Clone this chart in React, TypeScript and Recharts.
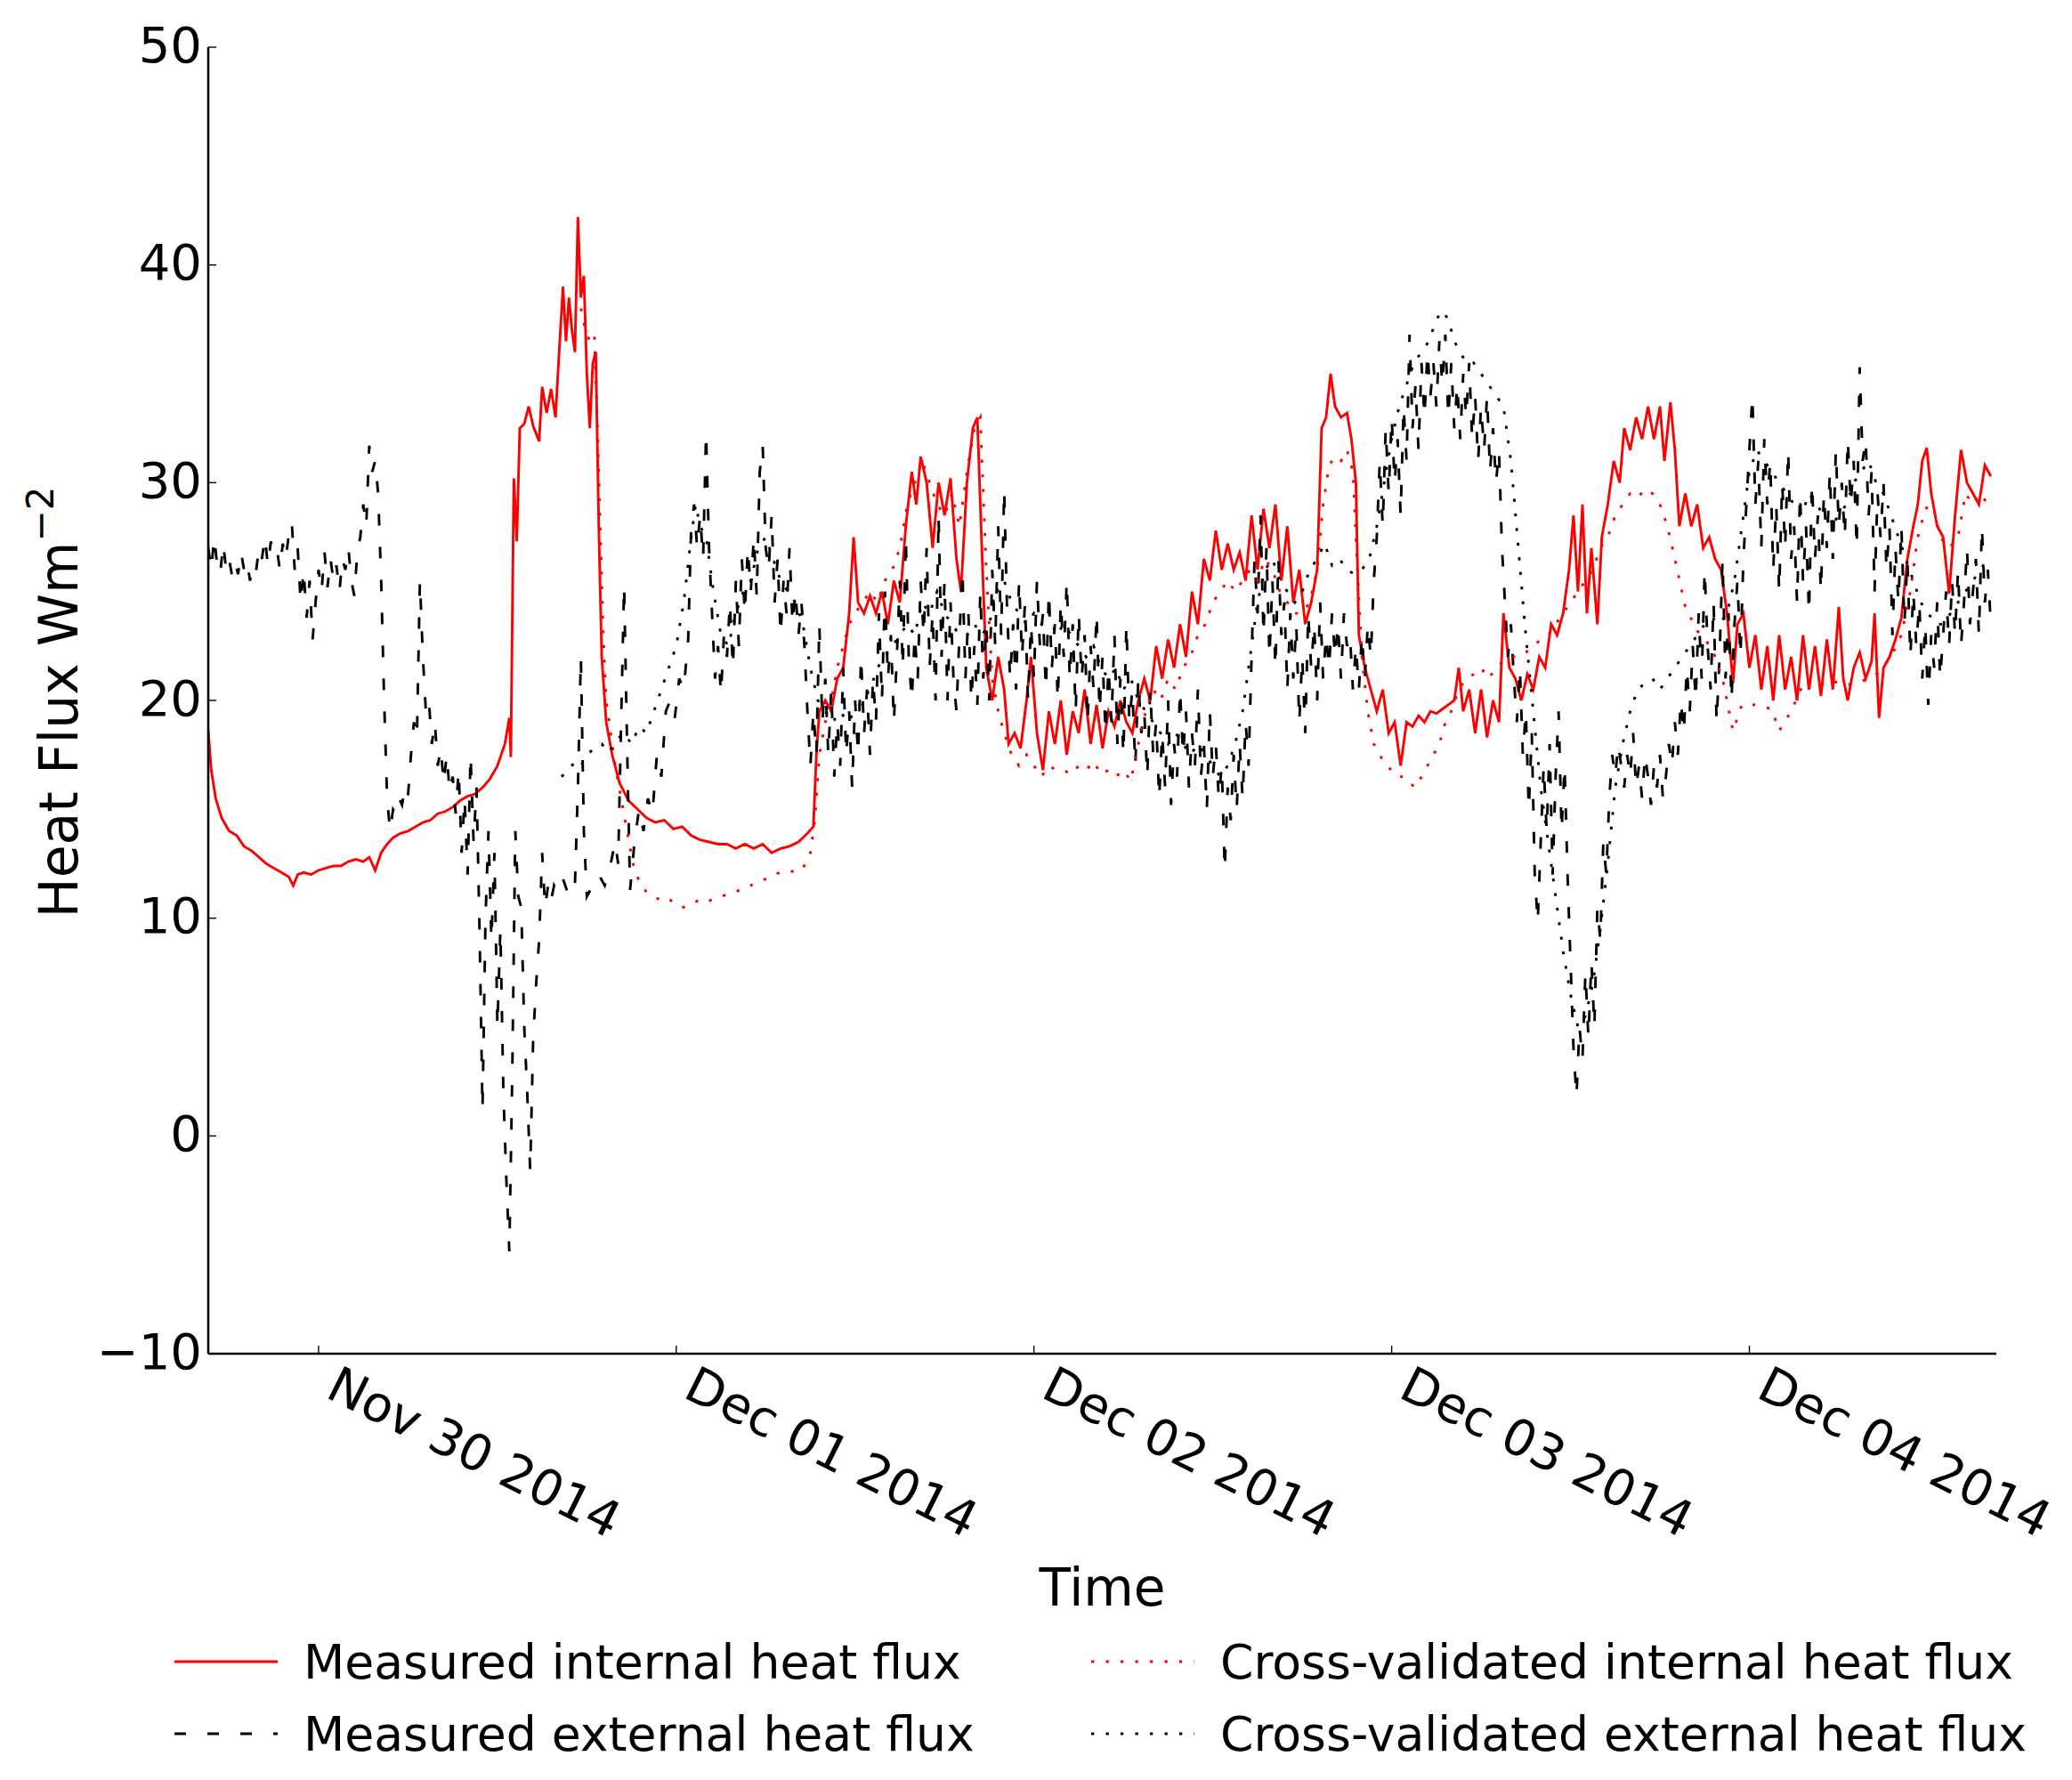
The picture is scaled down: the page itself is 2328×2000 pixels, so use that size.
import React from 'react';
import { LineChart, Line, XAxis, YAxis, Legend, Label } from 'recharts';

// hours since Nov 30 2014 00:00, heat flux in W/m2
const measuredInternal: [number, number][] = [
  [-7.4, 18.6], [-7.2, 16.8], [-6.9, 15.5], [-6.5, 14.6], [-6.0, 14.0], [-5.5, 13.8], [-5.0, 13.3], [-4.5, 13.1],
  [-4.0, 12.8], [-3.5, 12.5], [-3.0, 12.3], [-2.5, 12.1], [-2.0, 11.9], [-1.7, 11.5], [-1.4, 12.0], [-1.0, 12.1],
  [-0.5, 12.0], [0, 12.2], [0.5, 12.3], [1.0, 12.4], [1.5, 12.4], [2.0, 12.6], [2.5, 12.7], [3.0, 12.6],
  [3.4, 12.8], [3.8, 12.2], [4.2, 13.0], [4.6, 13.4], [5.0, 13.7], [5.5, 13.9], [6.0, 14.0], [6.5, 14.2],
  [7.0, 14.4], [7.5, 14.5], [8.0, 14.8], [8.5, 14.9], [9.0, 15.1], [9.5, 15.4], [10.0, 15.6], [10.5, 15.7],
  [11.0, 16.0], [11.5, 16.4], [12.0, 17.0], [12.5, 18.0], [12.8, 19.2], [12.9, 17.4], [13.1, 30.2], [13.3, 27.3],
  [13.5, 32.5], [13.8, 32.7], [14.1, 33.5], [14.4, 32.6], [14.8, 31.9], [15.0, 34.4], [15.3, 33.2], [15.6, 34.3],
  [15.9, 33.0], [16.1, 35.5], [16.4, 39.0], [16.6, 36.5], [16.8, 38.5], [17.0, 37.0], [17.2, 36.0], [17.4, 42.2],
  [17.6, 38.5], [17.8, 39.5], [18.0, 35.0], [18.2, 32.5], [18.4, 35.5], [18.6, 36.0], [18.8, 28.0], [19.0, 22.0],
  [19.3, 19.0], [19.7, 17.5], [20.2, 16.2], [20.8, 15.4], [21.4, 15.0], [22.0, 14.6], [22.6, 14.4], [23.2, 14.5],
  [23.8, 14.1], [24.4, 14.2], [25.0, 13.8], [25.6, 13.6], [26.2, 13.5], [26.8, 13.4], [27.4, 13.4], [28.0, 13.2],
  [28.6, 13.4], [29.2, 13.2], [29.8, 13.4], [30.4, 13.0], [31.0, 13.2], [31.6, 13.3], [32.2, 13.5], [32.8, 13.9],
  [33.2, 14.2], [33.4, 17.5], [33.6, 19.5], [34.0, 20.0], [34.4, 19.5], [34.8, 21.0], [35.2, 21.5], [35.6, 24.0],
  [35.9, 27.5], [36.2, 24.5], [36.6, 24.0], [37.0, 24.8], [37.4, 24.0], [37.8, 25.0], [38.2, 23.5], [38.6, 25.5],
  [39.0, 24.5], [39.4, 28.0], [39.8, 30.5], [40.1, 29.0], [40.4, 31.2], [40.8, 30.0], [41.2, 27.0], [41.6, 30.0],
  [42.0, 28.5], [42.4, 30.2], [42.8, 26.5], [43.1, 25.0], [43.5, 30.0], [43.9, 32.5], [44.2, 33.0], [44.5, 27.0],
  [44.8, 21.5], [45.2, 20.0], [45.6, 22.0], [46.0, 20.5], [46.3, 18.0], [46.7, 18.5], [47.1, 17.8], [47.5, 20.0],
  [47.8, 22.0], [48.2, 18.5], [48.6, 16.8], [49.0, 19.5], [49.4, 18.0], [49.8, 20.0], [50.2, 17.5], [50.6, 19.5],
  [51.0, 18.5], [51.4, 20.5], [51.8, 18.0], [52.2, 19.8], [52.6, 17.8], [53.0, 19.5], [53.4, 18.8], [53.8, 20.0],
  [54.2, 19.0], [54.6, 18.5], [55.0, 20.0], [55.4, 21.0], [55.8, 20.0], [56.2, 22.5], [56.6, 21.0], [57.0, 22.8],
  [57.4, 21.5], [57.8, 23.5], [58.2, 22.0], [58.6, 25.0], [59.0, 23.5], [59.4, 26.5], [59.8, 25.5], [60.2, 27.8],
  [60.6, 26.0], [61.0, 27.2], [61.4, 26.0], [61.8, 26.8], [62.2, 25.5], [62.6, 28.5], [63.0, 26.0], [63.4, 28.8],
  [63.8, 27.0], [64.2, 29.0], [64.6, 25.5], [65.0, 28.0], [65.4, 24.5], [65.8, 26.0], [66.2, 23.5], [66.6, 24.5],
  [67.0, 26.0], [67.3, 32.5], [67.6, 33.0], [67.9, 35.0], [68.2, 33.5], [68.6, 33.0], [69.0, 33.2], [69.3, 32.0],
  [69.6, 30.0], [69.8, 23.0], [70.2, 21.5], [70.6, 20.5], [71.0, 19.5], [71.4, 20.5], [71.8, 18.5], [72.2, 19.0],
  [72.6, 17.0], [73.0, 19.0], [73.4, 18.8], [73.8, 19.3], [74.2, 19.0], [74.6, 19.5], [75.0, 19.4], [75.4, 19.6],
  [75.8, 19.8], [76.2, 20.0], [76.5, 21.5], [76.8, 19.5], [77.2, 20.5], [77.6, 18.5], [78.0, 20.5], [78.4, 18.3],
  [78.8, 20.0], [79.2, 19.0], [79.5, 24.0], [79.9, 21.5], [80.3, 21.0], [80.7, 20.0], [81.1, 21.2], [81.5, 20.5],
  [81.9, 22.0], [82.3, 21.5], [82.7, 23.5], [83.1, 23.0], [83.5, 24.0], [83.9, 26.0], [84.2, 28.5], [84.5, 25.0],
  [84.8, 29.0], [85.1, 24.0], [85.4, 27.0], [85.8, 23.5], [86.1, 27.5], [86.5, 29.0], [86.9, 31.0], [87.3, 30.0],
  [87.6, 32.5], [88.0, 31.5], [88.4, 33.0], [88.8, 32.0], [89.2, 33.5], [89.6, 32.0], [90.0, 33.5], [90.3, 31.0],
  [90.7, 33.7], [91.0, 31.5], [91.3, 28.0], [91.7, 29.5], [92.1, 28.0], [92.5, 29.0], [92.9, 27.0], [93.3, 27.5],
  [93.7, 26.5], [94.1, 26.0], [94.5, 24.0], [94.9, 20.8], [95.2, 23.5], [95.6, 24.0], [96.0, 21.5], [96.4, 23.0],
  [96.8, 20.5], [97.2, 22.5], [97.6, 20.0], [98.0, 23.0], [98.4, 20.5], [98.8, 22.0], [99.2, 20.0], [99.6, 23.0],
  [100.0, 20.5], [100.4, 22.5], [100.8, 20.2], [101.2, 22.8], [101.6, 20.5], [102.0, 24.3], [102.3, 21.0], [102.6, 20.0],
  [103.0, 21.5], [103.4, 22.2], [103.8, 21.0], [104.2, 21.8], [104.4, 24.0], [104.7, 19.2], [105.0, 21.5], [105.4, 22.0],
  [105.8, 22.8], [106.2, 23.8], [106.6, 26.5], [107.0, 28.0], [107.3, 29.0], [107.6, 31.0], [107.9, 31.6], [108.2, 29.5],
  [108.6, 28.0], [109.0, 27.5], [109.4, 24.9], [109.8, 28.5], [110.2, 31.5], [110.6, 30.0], [111.0, 29.5], [111.4, 29.0],
  [111.8, 30.8], [112.2, 30.3],
];

const measuredExternal: [number, number][] = [
  [-7.4, 27.0], [-7.2, 26.0], [-7.0, 27.5], [-6.8, 26.2], [-6.6, 25.8], [-6.4, 27.2], [-6.2, 26.0], [-6.0, 26.5],
  [-5.8, 25.7], [-5.6, 26.3], [-5.4, 25.8], [-5.2, 26.8], [-5.0, 26.0], [-4.8, 26.4], [-4.6, 25.5], [-4.4, 26.2],
  [-4.2, 25.9], [-4.0, 27.0], [-3.8, 26.5], [-3.6, 27.5], [-3.4, 26.2], [-3.2, 27.3], [-3.0, 26.8], [-2.8, 27.0],
  [-2.6, 26.0], [-2.4, 27.2], [-2.2, 26.5], [-2.0, 27.6], [-1.8, 28.2], [-1.6, 26.0], [-1.4, 27.0], [-1.2, 24.5],
  [-1.0, 26.0], [-0.8, 23.8], [-0.6, 25.5], [-0.4, 22.8], [-0.2, 24.5], [0.0, 26.0], [0.2, 25.0], [0.4, 26.8],
  [0.6, 25.2], [0.8, 26.5], [1.0, 25.5], [1.2, 26.2], [1.4, 25.0], [1.6, 26.5], [1.8, 26.0], [2.0, 27.0],
  [2.2, 25.5], [2.4, 24.8], [2.6, 26.8], [2.8, 27.5], [3.0, 29.0], [3.2, 28.0], [3.4, 31.7], [3.6, 30.5],
  [3.8, 31.0], [4.0, 29.5], [4.2, 25.5], [4.4, 20.0], [4.6, 15.5], [4.8, 14.0], [5.0, 15.0], [5.2, 14.8],
  [5.4, 15.5], [5.6, 15.2], [5.8, 16.0], [6.0, 15.6], [6.2, 17.5], [6.4, 19.0], [6.6, 18.3], [6.8, 25.5],
  [7.0, 22.0], [7.2, 19.5], [7.4, 20.0], [7.6, 18.0], [7.8, 19.0], [8.0, 17.0], [8.2, 17.8], [8.4, 16.2],
  [8.6, 17.5], [8.8, 15.8], [9.0, 16.5], [9.2, 14.8], [9.4, 16.8], [9.6, 13.0], [9.8, 15.5], [10.0, 12.0],
  [10.2, 17.5], [10.4, 13.5], [10.6, 16.0], [10.8, 9.5], [11.0, 1.2], [11.2, 10.0], [11.4, 14.0], [11.6, 9.0],
  [11.8, 13.0], [12.0, 5.0], [12.2, 9.5], [12.4, 2.0], [12.6, -2.0], [12.8, -5.3], [13.0, 3.0], [13.2, 14.0],
  [13.4, 11.0], [13.6, 10.5], [13.8, 5.0], [14.0, 2.0], [14.2, -1.6], [14.4, 4.5], [14.6, 7.0], [14.8, 9.0],
  [15.0, 13.0], [15.2, 10.5], [15.4, 11.5], [15.6, 10.8], [15.8, 11.5], [16.0, 11.2], [16.4, 11.8], [16.8, 11.0],
  [17.2, 11.5], [17.4, 16.0], [17.6, 22.0], [17.8, 14.0], [18.0, 11.0], [18.4, 11.5], [18.8, 12.0], [19.2, 11.5],
  [19.6, 12.5], [19.9, 13.5], [20.1, 12.5], [20.3, 19.0], [20.5, 25.3], [20.7, 18.0], [20.9, 11.3], [21.2, 13.5],
  [21.5, 15.0], [21.8, 14.0], [22.1, 15.5], [22.4, 14.8], [22.7, 17.5], [23.0, 16.5], [23.3, 19.5], [23.6, 20.0],
  [23.9, 19.2], [24.2, 21.0], [24.5, 20.5], [24.8, 22.8], [25.0, 28.0], [25.2, 29.0], [25.4, 27.0], [25.6, 28.5],
  [25.8, 26.5], [26.0, 32.3], [26.2, 27.0], [26.4, 24.0], [26.6, 21.0], [26.8, 22.5], [27.0, 20.3], [27.2, 23.0],
  [27.4, 22.0], [27.6, 24.5], [27.8, 21.5], [28.0, 25.5], [28.2, 22.5], [28.4, 26.5], [28.6, 24.0], [28.8, 27.0],
  [29.0, 25.0], [29.2, 27.5], [29.4, 24.8], [29.6, 30.5], [29.8, 31.7], [30.0, 27.0], [30.2, 26.0], [30.4, 28.5],
  [30.6, 24.5], [30.8, 26.5], [31.0, 23.0], [31.2, 25.5], [31.4, 24.0], [31.6, 27.0], [31.8, 23.5], [32.0, 25.0],
  [32.2, 23.0], [32.4, 24.5], [32.6, 22.5], [32.8, 19.5], [33.0, 17.0], [33.2, 19.5], [33.4, 17.5], [33.6, 23.5],
  [33.8, 19.0], [34.0, 21.0], [34.2, 17.5], [34.4, 20.5], [34.6, 16.5], [34.8, 19.0], [35.0, 17.0], [35.2, 21.5],
  [35.4, 17.5], [35.6, 19.5], [35.8, 16.0], [36.0, 20.0], [36.2, 17.5], [36.4, 22.0], [36.6, 18.5], [36.8, 20.5],
  [37.0, 17.5], [37.2, 21.0], [37.4, 19.0], [37.6, 24.0], [37.8, 20.0], [38.0, 25.0], [38.2, 21.0], [38.4, 23.0],
  [38.6, 19.0], [38.8, 22.0], [39.0, 25.5], [39.2, 21.5], [39.4, 27.5], [39.6, 22.0], [39.8, 20.0], [40.0, 23.0],
  [40.2, 21.0], [40.4, 25.5], [40.6, 23.0], [40.8, 27.0], [41.0, 21.5], [41.2, 24.0], [41.4, 20.0], [41.6, 28.5],
  [41.8, 22.0], [42.0, 25.5], [42.2, 20.0], [42.4, 24.5], [42.6, 21.0], [42.8, 19.5], [43.0, 23.0], [43.2, 26.0],
  [43.4, 21.0], [43.6, 24.0], [43.8, 20.0], [44.0, 22.5], [44.2, 19.8], [44.4, 25.0], [44.6, 21.0], [44.8, 23.5],
  [45.0, 20.0], [45.2, 26.0], [45.4, 22.5], [45.6, 28.0], [45.8, 23.0], [46.0, 29.7], [46.2, 24.0], [46.4, 21.0],
  [46.6, 23.5], [46.8, 20.5], [47.0, 25.5], [47.2, 22.0], [47.4, 24.5], [47.6, 20.0], [47.8, 23.5], [48.0, 21.0],
  [48.2, 25.5], [48.4, 22.5], [48.6, 24.0], [48.8, 20.5], [49.0, 25.0], [49.2, 21.5], [49.4, 23.5], [49.6, 20.0],
  [49.8, 24.5], [50.0, 22.0], [50.2, 25.5], [50.4, 21.0], [50.6, 23.5], [50.8, 19.5], [51.0, 24.0], [51.2, 21.0],
  [51.4, 23.0], [51.6, 19.0], [51.8, 22.5], [52.0, 20.5], [52.2, 24.0], [52.4, 19.5], [52.6, 22.0], [52.8, 18.5],
  [53.0, 21.5], [53.2, 19.0], [53.4, 23.0], [53.6, 18.0], [53.8, 21.0], [54.0, 17.5], [54.2, 23.5], [54.4, 19.0],
  [54.6, 20.5], [54.8, 17.0], [55.0, 21.0], [55.2, 18.5], [55.4, 19.5], [55.6, 16.5], [55.8, 20.5], [56.0, 17.5],
  [56.2, 19.0], [56.4, 15.5], [56.6, 18.5], [56.8, 16.0], [57.0, 20.0], [57.2, 15.2], [57.4, 18.0], [57.6, 16.5],
  [57.8, 20.5], [58.0, 17.5], [58.2, 19.5], [58.4, 16.0], [58.6, 18.5], [58.8, 17.0], [59.0, 20.5], [59.2, 16.5],
  [59.4, 18.0], [59.6, 15.0], [59.8, 19.5], [60.0, 16.5], [60.2, 18.0], [60.4, 15.5], [60.6, 17.0], [60.8, 12.2],
  [61.0, 16.0], [61.2, 14.5], [61.4, 17.5], [61.6, 15.0], [61.8, 18.0], [62.0, 15.5], [62.2, 19.0], [62.4, 17.0],
  [62.6, 22.0], [62.8, 26.5], [63.0, 24.0], [63.2, 28.5], [63.4, 23.0], [63.6, 27.0], [63.8, 22.0], [64.0, 25.5],
  [64.2, 21.5], [64.4, 26.5], [64.6, 23.0], [64.8, 24.5], [65.0, 20.5], [65.2, 24.0], [65.4, 21.0], [65.6, 23.5],
  [65.8, 19.0], [66.0, 22.0], [66.2, 18.5], [66.4, 24.0], [66.6, 21.5], [66.8, 23.5], [67.0, 20.0], [67.2, 24.5],
  [67.4, 21.0], [67.6, 23.0], [67.8, 21.5], [68.0, 24.0], [68.2, 22.0], [68.4, 23.5], [68.6, 21.0], [68.8, 24.0],
  [69.0, 22.5], [69.2, 23.0], [69.4, 20.5], [69.6, 22.5], [69.8, 20.5], [70.0, 23.0], [70.2, 21.0], [70.4, 23.5],
  [70.6, 22.0], [70.8, 25.5], [71.0, 27.5], [71.2, 31.0], [71.4, 28.0], [71.6, 32.5], [71.8, 29.5], [72.0, 33.0],
  [72.2, 30.0], [72.4, 32.0], [72.6, 28.5], [72.8, 33.5], [73.0, 31.0], [73.2, 36.8], [73.4, 32.5], [73.6, 34.5],
  [73.8, 31.5], [74.0, 35.5], [74.2, 33.0], [74.4, 36.0], [74.6, 34.0], [74.8, 35.5], [75.0, 33.5], [75.2, 36.5],
  [75.4, 34.5], [75.6, 36.8], [75.8, 33.0], [76.0, 35.5], [76.2, 32.5], [76.4, 34.5], [76.6, 32.0], [76.8, 35.0],
  [77.0, 33.0], [77.2, 35.5], [77.4, 32.0], [77.6, 34.0], [77.8, 31.0], [78.0, 33.5], [78.2, 31.5], [78.4, 34.0],
  [78.6, 30.5], [78.8, 32.5], [79.0, 30.0], [79.2, 31.5], [79.4, 27.0], [79.6, 24.5], [79.8, 22.0], [80.0, 23.5],
  [80.2, 21.0], [80.4, 19.0], [80.6, 21.5], [80.8, 17.5], [81.0, 19.5], [81.2, 15.0], [81.4, 18.5], [81.6, 12.0],
  [81.8, 9.8], [82.0, 13.5], [82.2, 17.0], [82.4, 14.0], [82.6, 18.0], [82.8, 12.0], [83.0, 16.5], [83.2, 19.5],
  [83.4, 14.0], [83.6, 17.0], [83.8, 12.0], [84.0, 8.0], [84.2, 4.0], [84.4, 1.8], [84.6, 5.0], [84.8, 3.5],
  [85.0, 7.5], [85.2, 4.5], [85.4, 8.0], [85.6, 5.0], [85.8, 10.5], [86.0, 9.0], [86.2, 13.5], [86.4, 12.0],
  [86.6, 15.5], [86.8, 17.5], [87.0, 16.5], [87.2, 18.0], [87.4, 17.0], [87.6, 16.0], [87.8, 17.5], [88.0, 16.5],
  [88.2, 18.5], [88.4, 16.0], [88.6, 17.0], [88.8, 15.5], [89.0, 17.5], [89.2, 16.5], [89.4, 15.2], [89.6, 17.0],
  [89.8, 16.0], [90.0, 17.5], [90.2, 15.5], [90.4, 16.5], [90.6, 18.0], [90.8, 17.0], [91.0, 19.0], [91.2, 17.5],
  [91.4, 20.0], [91.6, 18.5], [91.8, 21.5], [92.0, 19.5], [92.2, 22.5], [92.4, 20.0], [92.6, 24.0], [92.8, 21.0],
  [93.0, 26.0], [93.2, 22.5], [93.4, 20.5], [93.6, 24.5], [93.8, 19.0], [94.0, 22.0], [94.2, 26.5], [94.4, 21.0],
  [94.6, 24.0], [94.8, 20.0], [95.0, 23.5], [95.2, 25.5], [95.4, 22.0], [95.6, 26.5], [95.8, 29.0], [96.0, 31.5],
  [96.2, 34.0], [96.4, 29.0], [96.6, 31.0], [96.8, 27.0], [97.0, 32.0], [97.2, 29.0], [97.4, 31.0], [97.6, 26.0],
  [97.8, 29.0], [98.0, 25.0], [98.2, 30.0], [98.4, 27.0], [98.6, 31.5], [98.8, 26.5], [99.0, 28.0], [99.2, 24.5],
  [99.4, 29.5], [99.6, 25.5], [99.8, 28.0], [100.0, 24.0], [100.2, 30.0], [100.4, 26.5], [100.6, 28.5], [100.8, 25.0],
  [101.0, 29.5], [101.2, 27.0], [101.4, 30.5], [101.6, 26.5], [101.8, 31.5], [102.0, 28.0], [102.2, 30.0], [102.4, 27.5],
  [102.6, 32.0], [102.8, 29.0], [103.0, 31.0], [103.2, 27.0], [103.4, 35.3], [103.6, 31.0], [103.8, 32.0], [104.0, 28.5],
  [104.2, 30.5], [104.4, 25.0], [104.6, 29.5], [104.8, 27.5], [105.0, 30.0], [105.2, 26.0], [105.4, 28.0], [105.6, 23.0],
  [105.8, 27.0], [106.0, 24.5], [106.2, 28.0], [106.4, 23.5], [106.6, 26.5], [106.8, 22.0], [107.0, 25.0], [107.2, 22.5],
  [107.4, 24.5], [107.6, 21.0], [107.8, 23.5], [108.0, 19.8], [108.2, 23.0], [108.4, 21.5], [108.6, 24.5], [108.8, 21.0],
  [109.0, 23.0], [109.2, 25.0], [109.4, 22.5], [109.6, 25.5], [109.8, 23.0], [110.0, 26.0], [110.2, 22.5], [110.4, 24.5],
  [110.6, 27.0], [110.8, 23.5], [111.0, 25.0], [111.2, 26.5], [111.4, 23.0], [111.6, 28.0], [111.8, 24.5], [112.0, 26.0],
  [112.2, 23.5],
];

const crossValidatedInternal: [number, number][] = [
  [17.6, 38.0], [17.9, 37.0], [18.2, 36.5], [18.5, 36.8], [18.7, 33.0], [18.9, 28.0], [19.1, 23.0], [19.3, 20.0],
  [19.6, 18.5], [19.9, 17.0], [20.3, 15.5], [20.7, 14.0], [21.1, 12.5], [21.5, 11.7], [22.0, 11.2], [22.5, 11.0],
  [23.0, 10.8], [23.5, 10.9], [24.0, 10.6], [24.5, 10.5], [25.0, 10.7], [25.5, 10.8], [26.0, 10.7], [26.5, 10.9],
  [27.0, 11.0], [27.5, 11.1], [28.0, 11.2], [28.5, 11.4], [29.0, 11.5], [29.5, 11.7], [30.0, 11.8], [30.5, 12.0],
  [31.0, 12.1], [31.5, 12.2], [32.0, 12.1], [32.5, 12.3], [33.0, 13.0], [33.3, 14.5], [33.6, 17.5], [34.0, 19.0],
  [34.4, 20.0], [34.8, 21.5], [35.2, 22.5], [35.6, 23.5], [36.0, 24.0], [36.5, 24.5], [37.0, 25.0], [37.5, 24.5],
  [38.0, 25.5], [38.5, 26.0], [39.0, 27.0], [39.5, 29.0], [40.0, 30.0], [40.5, 31.0], [41.0, 30.0], [41.5, 29.0],
  [42.0, 28.5], [42.5, 29.5], [43.0, 28.0], [43.5, 30.5], [44.0, 32.5], [44.4, 33.0], [44.8, 26.0], [45.2, 21.0],
  [45.6, 19.5], [46.0, 18.5], [46.5, 17.5], [47.0, 17.0], [47.5, 17.5], [48.0, 17.0], [48.5, 16.5], [49.0, 17.0],
  [49.5, 16.8], [50.0, 16.8], [50.5, 16.6], [51.0, 17.0], [51.5, 16.8], [52.0, 17.2], [52.5, 16.6], [53.0, 16.8],
  [53.5, 16.5], [54.0, 16.8], [54.5, 16.3], [55.0, 18.0], [55.5, 19.5], [56.0, 20.5], [56.5, 20.0], [57.0, 21.0],
  [57.5, 20.5], [58.0, 21.5], [58.5, 22.0], [59.0, 23.0], [59.5, 23.5], [60.0, 24.5], [60.5, 25.0], [61.0, 25.5],
  [61.5, 25.0], [62.0, 25.5], [62.5, 26.0], [63.0, 25.5], [63.5, 26.5], [64.0, 26.0], [64.5, 25.0], [65.0, 24.5],
  [65.5, 24.0], [66.0, 24.0], [66.5, 24.5], [67.0, 26.0], [67.4, 29.0], [67.8, 30.8], [68.2, 31.2], [68.6, 31.0],
  [69.0, 31.5], [69.4, 30.5], [69.7, 26.0], [70.0, 22.0], [70.4, 19.5], [70.8, 18.0], [71.2, 17.5], [71.6, 17.0],
  [72.0, 16.8], [72.4, 16.5], [72.8, 16.5], [73.2, 16.2], [73.6, 16.0], [74.0, 16.5], [74.4, 17.0], [74.8, 17.5],
  [75.2, 18.0], [75.6, 19.0], [76.0, 19.5], [76.5, 20.5], [77.0, 21.0], [77.5, 21.2], [78.0, 21.5], [78.5, 21.0],
  [79.0, 21.5], [79.5, 21.8], [80.0, 22.0], [80.5, 22.0], [81.0, 22.2], [81.5, 22.5], [82.0, 22.8], [82.5, 23.0],
  [83.0, 23.5], [83.5, 24.0], [84.0, 24.5], [84.5, 25.0], [85.0, 25.5], [85.5, 26.0], [86.0, 27.0], [86.5, 27.5],
  [87.0, 28.5], [87.5, 29.0], [88.0, 29.5], [88.5, 29.3], [89.0, 29.7], [89.5, 29.5], [90.0, 29.0], [90.5, 28.0],
  [91.0, 26.5], [91.7, 24.3], [92.5, 23.2], [93.5, 22.4], [94.2, 21.0], [94.9, 18.6], [95.5, 19.8], [96.5, 19.8],
  [97.5, 19.6], [98.0, 18.6], [98.8, 19.5], [99.7, 20.9], [100.5, 20.6], [101.5, 20.9], [102.5, 20.7], [103.6, 20.9],
  [104.5, 21.2], [105.5, 22.0], [106.2, 23.0], [106.8, 25.0], [107.3, 27.5], [107.8, 28.8], [108.3, 29.0], [108.8, 27.5],
  [109.4, 27.0], [110.0, 27.5], [110.5, 29.5], [111.0, 29.0], [111.5, 29.5], [112.0, 29.0],
];

const crossValidatedExternal: [number, number][] = [
  [16.3, 16.5], [16.8, 16.8], [17.2, 17.2], [17.6, 17.0], [18.0, 17.5], [18.5, 17.8], [19.0, 18.0], [19.5, 17.6],
  [20.0, 18.2], [20.5, 18.5], [21.0, 18.0], [21.5, 18.8], [22.0, 18.5], [22.5, 19.5], [23.0, 20.5], [23.5, 21.5],
  [24.0, 22.5], [24.5, 24.5], [25.0, 27.5], [25.3, 29.0], [25.6, 28.0], [26.0, 27.5], [26.5, 25.0], [27.0, 23.0],
  [27.5, 22.5], [28.0, 24.0], [28.5, 25.0], [29.0, 25.5], [29.5, 27.0], [30.0, 27.5], [30.5, 26.5], [31.0, 25.5],
  [31.5, 25.0], [32.0, 24.5], [32.5, 23.5], [33.0, 21.5], [33.5, 20.0], [34.0, 19.5], [34.5, 19.0], [35.0, 19.5],
  [35.5, 19.0], [36.0, 19.5], [36.5, 20.0], [37.0, 20.5], [37.5, 21.5], [38.0, 22.0], [38.5, 22.5], [39.0, 23.0],
  [39.5, 23.5], [40.0, 23.0], [40.5, 24.5], [41.0, 24.0], [41.5, 25.0], [42.0, 24.0], [42.5, 23.5], [43.0, 23.0],
  [43.5, 23.0], [44.0, 23.5], [44.5, 23.0], [45.0, 23.5], [45.5, 25.0], [46.0, 25.5], [46.5, 24.5], [47.0, 24.0],
  [47.5, 23.5], [48.0, 24.0], [48.5, 23.5], [49.0, 24.0], [49.5, 23.0], [50.0, 23.5], [50.5, 23.0], [51.0, 22.5],
  [51.5, 22.0], [52.0, 22.5], [52.5, 21.5], [53.0, 21.0], [53.5, 21.5], [54.0, 20.5], [54.5, 21.0], [55.0, 20.0],
  [55.5, 19.5], [56.0, 19.0], [56.5, 18.5], [57.0, 18.0], [57.5, 18.5], [58.0, 18.0], [58.5, 17.5], [59.0, 18.0],
  [59.5, 17.5], [60.0, 17.0], [60.5, 16.5], [61.0, 17.0], [61.5, 18.0], [62.0, 19.5], [62.5, 22.0], [63.0, 24.5],
  [63.5, 26.0], [64.0, 26.5], [64.5, 25.5], [65.0, 25.0], [65.5, 24.5], [66.0, 25.0], [66.5, 26.0], [67.0, 26.5],
  [67.5, 27.2], [68.0, 26.2], [68.5, 26.5], [69.0, 26.0], [69.5, 25.8], [70.0, 26.0], [70.5, 26.5], [71.0, 28.0],
  [71.5, 30.0], [72.0, 32.0], [72.5, 33.5], [73.0, 34.5], [73.5, 35.5], [74.0, 36.0], [74.5, 36.5], [75.0, 37.5],
  [75.4, 37.9], [75.8, 37.5], [76.2, 36.5], [76.6, 36.0], [77.0, 35.5], [77.5, 35.5], [78.0, 35.0], [78.5, 34.5],
  [79.0, 34.0], [79.5, 33.5], [80.0, 31.0], [80.5, 27.0], [81.0, 23.0], [81.5, 19.5], [82.0, 16.0], [82.5, 13.5],
  [83.0, 11.0], [83.5, 8.5], [84.0, 6.5], [84.5, 5.0], [85.0, 5.5], [85.5, 7.0], [86.0, 9.5], [86.5, 12.5],
  [87.0, 16.0], [87.5, 18.0], [88.0, 19.5], [88.5, 20.5], [89.0, 20.8], [89.5, 21.0], [90.0, 20.5], [90.5, 21.0],
  [91.0, 21.5], [91.5, 22.0], [92.0, 22.5], [92.5, 23.0], [93.0, 23.5], [93.5, 23.8], [94.0, 23.5], [94.5, 24.0],
  [95.0, 25.5], [95.5, 28.0], [96.0, 30.5], [96.5, 31.5], [97.0, 31.0], [97.5, 30.5], [98.0, 30.0], [98.5, 29.5],
  [99.0, 29.0], [99.5, 28.5], [100.0, 29.5], [100.5, 29.0], [101.0, 28.5], [101.5, 28.0], [102.0, 28.5], [102.5, 29.0],
  [103.0, 30.0], [103.5, 30.5], [104.0, 31.0], [104.5, 30.0], [105.0, 29.5], [105.5, 28.5], [106.0, 27.5], [106.5, 26.5],
  [107.0, 25.5], [107.5, 24.5], [108.0, 24.0], [108.5, 23.5], [109.0, 23.5], [109.5, 24.0], [110.0, 24.5], [110.5, 25.0],
  [111.0, 25.5], [111.5, 26.0], [112.0, 26.5],
];

const dayTicks = [0, 24, 48, 72, 96];
const dayLabels = ['Nov 30 2014', 'Dec 01 2014', 'Dec 02 2014', 'Dec 03 2014', 'Dec 04 2014'];
const fluxTicks = [-10, 0, 10, 20, 30, 40, 50];

const FONT = '"DejaVu Sans", sans-serif';

const series = [
  { name: 'Measured internal heat flux', points: measuredInternal, stroke: '#ff0000', dash: undefined },
  { name: 'Measured external heat flux', points: measuredExternal, stroke: '#000000', dash: '13 24' },
  { name: 'Cross-validated internal heat flux', points: crossValidatedInternal, stroke: '#ff0000', dash: '3.3 13.2' },
  { name: 'Cross-validated external heat flux', points: crossValidatedExternal, stroke: '#000000', dash: '3.3 13.2' },
];

const toRows = (pts: [number, number][]) => pts.map(([h, v]) => ({ h, v }));

const fmtFlux = (v: number) => (v < 0 ? '\u2212' + Math.abs(v) : String(v));

const DayTick = (props: any) => {
  const { x, y, payload } = props;
  const idx = dayTicks.indexOf(payload.value);
  const tx = x + 6;
  return (
    <text x={tx} y={y} transform={`rotate(26.5, ${tx}, ${y})`} textAnchor="start" fontSize={56} fontFamily={FONT} fill="#000">
      {dayLabels[idx]}
    </text>
  );
};

const FluxTick = (props: any) => {
  const { x, y, payload } = props;
  return (
    <text x={x} y={y} dy={16.5} textAnchor="end" fontSize={56} fontFamily={FONT} fill="#000">
      {fmtFlux(payload.value)}
    </text>
  );
};

const TimeLabel = (props: any) => {
  const vb = props.viewBox;
  return (
    <text x={vb.x + vb.width / 2} y={vb.y + 283} textAnchor="middle" fontSize={58} fontFamily={FONT} fill="#000">
      Time
    </text>
  );
};

const FluxLabel = (props: any) => {
  const vb = props.viewBox;
  const cx = vb.x - 87;
  const cy = vb.y + vb.height / 2 + 2;
  return (
    <text x={cx} y={cy} transform={`rotate(-90, ${cx}, ${cy})`} textAnchor="middle" fontSize={60} fontFamily={FONT} fill="#000">
      Heat Flux Wm<tspan dy={-27} fontSize={42}>{'\u22122'}</tspan>
    </text>
  );
};

// two legend columns, filled column by column in series order
const LegendBox = (props: any) => {
  const names = (props.payload || []).map((p: any) => p.value);
  const shown = series.filter((s) => names.length === 0 || names.includes(s.name));
  return (
    <svg width={2328} height={170} style={{ display: 'block' }}>
      {shown.map((s, i) => {
        const col = Math.floor(i / 2);
        const row = i % 2;
        const x0 = col === 0 ? 196 : 1226;
        const ly = row === 0 ? 47 : 128;
        return (
          <g key={s.name}>
            <line x1={x0} x2={x0 + 116} y1={ly} y2={ly} stroke={s.stroke} strokeWidth={2.8} strokeDasharray={s.dash} />
            <text x={x0 + 145} y={ly + 18.5} fontSize={53.6} fontFamily={FONT} fill="#000">
              {s.name}
            </text>
          </g>
        );
      })}
    </svg>
  );
};

export default function App() {
  return (
    <div style={{ position: 'absolute', left: 0, top: 0, background: '#fff' }}>
      <LineChart width={2328} height={2000} margin={{ top: 53, right: 85, bottom: 449, left: 174 }}>
        <XAxis
          type="number"
          dataKey="h"
          domain={[-7.4, 112.57]}
          ticks={dayTicks}
          allowDataOverflow
          height={30}
          axisLine={{ stroke: '#000', strokeWidth: 2.6 }}
          tickLine={{ stroke: '#000', strokeWidth: 1.4 }}
          tickSize={-9}
          tickMargin={57}
          tick={<DayTick />}
        >
          <Label content={<TimeLabel />} />
        </XAxis>
        <YAxis
          type="number"
          domain={[-10, 50]}
          ticks={fluxTicks}
          width={60}
          axisLine={{ stroke: '#000', strokeWidth: 2.6 }}
          tickLine={{ stroke: '#000', strokeWidth: 1.4 }}
          tickSize={-9}
          tickMargin={16}
          tick={<FluxTick />}
        >
          <Label content={<FluxLabel />} />
        </YAxis>
        {series.map((s) => (
          <Line
            key={s.name}
            name={s.name}
            data={toRows(s.points)}
            dataKey="v"
            type="linear"
            stroke={s.stroke}
            strokeWidth={2.9}
            strokeDasharray={s.dash}
            dot={false}
            activeDot={false}
            isAnimationActive={false}
          />
        ))}
        <Legend
          verticalAlign="middle"
          align="center"
          layout="horizontal"
          content={<LegendBox />}
          wrapperStyle={{ position: 'absolute', left: 0, top: 1820, width: 2328, height: 170 }}
        />
      </LineChart>
    </div>
  );
}
